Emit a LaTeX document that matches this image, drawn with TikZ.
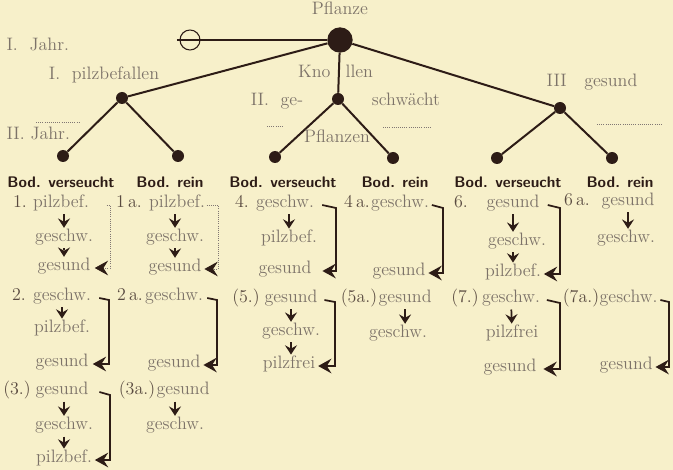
\documentclass[tikz,border=0pt]{standalone}
\usepackage{fontspec}
\usetikzlibrary{arrows.meta}
\definecolor{paper}{RGB}{247,240,202}
\definecolor{ink}{RGB}{45,28,22}
\definecolor{pale}{RGB}{125,115,105}
\definecolor{num}{RGB}{90,75,65}
\begin{document}
\begin{tikzpicture}[x=0.75pt,y=-0.75pt,
	dot/.style={circle,fill=ink,inner sep=0pt,minimum size=9pt},
	word/.style={text=pale,font=\fontsize{13.5}{15}\selectfont,inner sep=1pt,anchor=mid},
	numb/.style={word,text=num},
	head/.style={text=ink,font=\fontsize{11.5}{13}\selectfont\sffamily\bfseries,inner sep=1pt,anchor=mid},
	tree/.style={ink,line width=1.5pt},
	down/.style={ink,line width=1.3pt,-{Stealth[length=7pt,width=9pt,inset=2.5pt]},shorten <=1pt,shorten >=0pt},
	bracket/.style={ink,line width=1.3pt,-{Stealth[length=10pt,width=11pt,inset=3.5pt,color=ink]}},
	faint/.style={ink!60,line width=0.6pt,densely dotted}]
	\fill[paper] (0,0) rectangle (673,470);
	\useasboundingbox (0,0) rectangle (673,470);

	% the tree
	\node[dot,minimum size=19pt] (pfl) at (340,40) {};
	\node[circle,draw=ink,line width=0.8pt,minimum size=15pt,inner sep=0pt] (null) at (190,40) {};
	\node[dot] (d1) at (122,98) {};
	\node[dot] (d2) at (338,99) {};
	\node[dot] (d3) at (560,108) {};
	\node[dot] (l1) at (63,156) {};
	\node[dot] (l2) at (178,156) {};
	\node[dot] (l3) at (275,157) {};
	\node[dot] (l4) at (393,158) {};
	\node[dot] (l5) at (497,158) {};
	\node[dot] (l6) at (612,158) {};

	\draw[ink,line width=0.8pt] ([xshift=-2pt]null.west) -- (null.east);
	\draw[tree] (null.east) -- (pfl);
	\draw[tree] (pfl) -- (d1);
	\draw[tree] (pfl) -- (d2);
	\draw[tree] (pfl) -- (d3);
	\draw[tree] (d1) -- (l1);
	\draw[tree] (d1) -- (l2);
	\draw[tree] (d2) -- (l3);
	\draw[tree] (d2) -- (l4);
	\draw[tree] (d3) -- (l5);
	\draw[tree] (d3) -- (l6);

	\node[word] (tpfl) at (340,12) {Pflanze};
	\node[word,anchor=mid west] (j1) at (5,48) {I.~~Jahr.};
	\node[word,anchor=mid west] (j2) at (5,137) {II. Jahr.};
	\node[word] (tpilz) at (104,77) {I.~~pilzbefallen};
	\node[word,anchor=mid east] (tkno) at (332,75) {Kno};
	\node[word,anchor=mid west] (tllen) at (344,75) {llen};
	\node[word] (tge) at (277,103) {II.~~ge-};
	\node[word] (tschw) at (406,103) {schwächt};
	\node[word] (tpflz) at (337,140) {Pflanzen};
	\node[word] (tges) at (592,84) {III~~~gesund};

	\coordinate (s1a) at (36,122);  \coordinate (s1b) at (80,122);
	\coordinate (s2a) at (267,126); \coordinate (s2b) at (284,126);
	\coordinate (s3a) at (383,127); \coordinate (s3b) at (430,127);
	\coordinate (s4a) at (597,124); \coordinate (s4b) at (663,124);
	\draw[faint] (s1a) -- (s1b);
	\draw[faint] (s2a) -- (s2b);
	\draw[faint] (s3a) -- (s3b);
	\draw[faint] (s4a) -- (s4b);

	% soil headings
	\node[head] (h1) at (61,185) {Bod. verseucht};
	\node[head] (h2) at (170,185) {Bod. rein};
	\node[head] (h3) at (283,185) {Bod. verseucht};
	\node[head] (h4) at (395,185) {Bod. rein};
	\node[head] (h5) at (508,185) {Bod. verseucht};
	\node[head] (h6) at (620,185) {Bod. rein};

	% case 1 and 1a
	\node[numb] (n1) at (20,205) {1.};
	\node[word] (p1-1) at (61,205) {pilzbef.};
	\node[word] (p1-2) at (64,239) {geschw.};
	\node[word] (p1-3) at (64,268) {gesund};
	\coordinate (b1) at (110,205);
	\draw[down] (p1-1.south -| p1-2) -- (p1-2);
	\draw[down,densely dotted] (p1-2) -- (p1-3);
	\draw[bracket,faint] ([xshift=12pt]p1-1.mid east) -- (b1) |- ([xshift=2pt]p1-3.mid east);

	\node[numb] (n1a) at (129,205) {1\,a.};
	\node[word] (p1a-1) at (177,205) {pilzbef.};
	\node[word] (p1a-2) at (175,239) {geschw.};
	\node[word] (p1a-3) at (175,269) {gesund};
	\coordinate (b1a) at (218,205);
	\draw[down] (p1a-1.south -| p1a-2) -- (p1a-2);
	\draw[down] (p1a-2) -- (p1a-3);
	\draw[bracket,faint] (p1a-1.mid east) -- (b1a) |- ([xshift=1pt]p1a-3.mid east);

	% case 2 and 2a
	\node[numb] (n2) at (19,298) {2.};
	\node[word] (p2-1) at (62,298) {geschw.};
	\node[word] (p2-2) at (62,330) {pilzbef.};
	\node[word] (p2-3) at (62,364) {gesund};
	\coordinate (b2) at (109,300);
	\draw[down] (p2-1) -- (p2-2);
	\draw[bracket] ([xshift=5pt]p2-1.mid east) -- (b2) |- ([xshift=2pt]p2-3.mid east);

	\node[numb] (n2a) at (130,298) {2\,a.};
	\node[word] (p2a-1) at (174,298) {geschw.};
	\node[word] (p2a-3) at (174,365) {gesund};
	\coordinate (b2a) at (217,300);
	\draw[bracket] ([xshift=2pt]p2a-1.mid east) -- (b2a) |- ([xshift=1pt]p2a-3.mid east);

	% case 3 and 3a
	\node[numb] (n3) at (17,392) {(3.)};
	\node[word] (p3-1) at (62,392) {gesund};
	\node[word] (p3-2) at (64,427) {geschw.};
	\node[word] (p3-3) at (64,460) {pilzbef.};
	\coordinate (b3) at (110,395);
	\draw[down] (p3-1.south -| p3-2) -- (p3-2);
	\draw[down] (p3-2) -- (p3-3);
	\draw[bracket] ([xshift=7pt]p3-1.mid east) -- (b3) |- ([xshift=1pt]p3-3.mid east);

	\node[numb] (n3a) at (137,392) {(3a.)};
	\node[word,anchor=mid west] (p3a-1) at (155,392) {gesund};
	\node[word] (p3a-2) at (175,427) {geschw.};
	\draw[down] (p3a-1.south -| p3a-2) -- (p3a-2);

	% case 4 and 4a
	\node[numb] (n4) at (242,205) {4.};
	\node[word] (p4-1) at (285,205) {geschw.};
	\node[word] (p4-2) at (289,240) {pilzbef.};
	\node[word] (p4-3) at (285,271) {gesund};
	\coordinate (b4) at (336,208);
	\draw[down] (p4-1.south -| p4-2) -- (p4-2);
	\draw[bracket] ([xshift=5pt]p4-1.mid east) -- (b4) |- ([xshift=7pt]p4-3.mid east);

	\node[numb] (n4a) at (357,205) {4\,a.};
	\node[word] (p4a-1) at (400,205) {geschw.};
	\node[word] (p4a-3) at (399,273) {gesund};
	\coordinate (b4a) at (443,208);
	\draw[bracket] ([xshift=1pt]p4a-1.mid east) -- (b4a) |- ([xshift=1pt]p4a-3.mid east);

	% case 5 and 5a
	\node[numb] (n5) at (246,300) {(5.)};
	\node[word] (p5-1) at (291,300) {gesund};
	\node[word] (p5-2) at (291,333) {geschw.};
	\node[word] (p5-3) at (289,366) {pilzfrei};
	\coordinate (b5) at (335,302);
	\draw[down] (p5-1.south -| p5-2) -- (p5-2);
	\draw[down] (p5-2) -- (p5-3.north -| p5-2);
	\draw[bracket] ([xshift=4pt]p5-1.mid east) -- (b5) |- ([xshift=1pt]p5-3.mid east);

	\node[numb] (n5a) at (359,300) {(5a.)};
	\node[word,anchor=mid west] (p5a-1) at (377,300) {gesund};
	\node[word] (p5a-2) at (398,335) {geschw.};
	\draw[down] (p5a-1.south) -- (p5a-1.south |- p5a-2.north);

	% case 6 and 6a
	\node[numb] (n6) at (461,205) {6.};
	\node[word] (p6-1) at (513,205) {gesund};
	\node[word] (p6-2) at (517,243) {geschw.};
	\node[word] (p6-3) at (513,274) {pilzbef.};
	\coordinate (b6) at (560,208);
	\draw[down] (p6-1) -- (p6-1 |- p6-2.north);
	\draw[down] (p6-2.south -| p6-3) -- (p6-3);
	\draw[bracket] ([xshift=5pt]p6-1.mid east) -- (b6) |- ([xshift=1pt]p6-3.mid east);

	\node[numb] (n6a) at (577,203) {6\,a.};
	\node[word] (p6a-1) at (628,203) {gesund};
	\node[word] (p6a-2) at (626,240) {geschw.};
	\draw[down] (p6a-1) -- (p6a-1 |- p6a-2.north);

	% case 7 and 7a
	\node[numb] (n7) at (465,300) {(7.)};
	\node[word] (p7-1) at (511,300) {geschw.};
	\node[word] (p7-2) at (512,335) {pilzfrei};
	\node[word] (p7-3) at (510,369) {gesund};
	\coordinate (b7) at (560,303);
	\draw[down] (p7-1) -- (p7-2);
	\draw[bracket] ([xshift=4pt]p7-1.mid east) -- (b7) |- ([xshift=4pt]p7-3.mid east);

	\node[numb] (n7a) at (581,300) {(7a.)};
	\node[word,anchor=mid west] (p7a-1) at (598,300) {geschw.};
	\node[word,anchor=mid west] (p7a-3) at (598,367) {gesund};
	\coordinate (b7a) at (669,302);
	\draw[bracket] ([xshift=1pt]p7a-1.mid east) -- (b7a) |- ([xshift=1pt]p7a-3.mid east);
\end{tikzpicture}
\end{document}
